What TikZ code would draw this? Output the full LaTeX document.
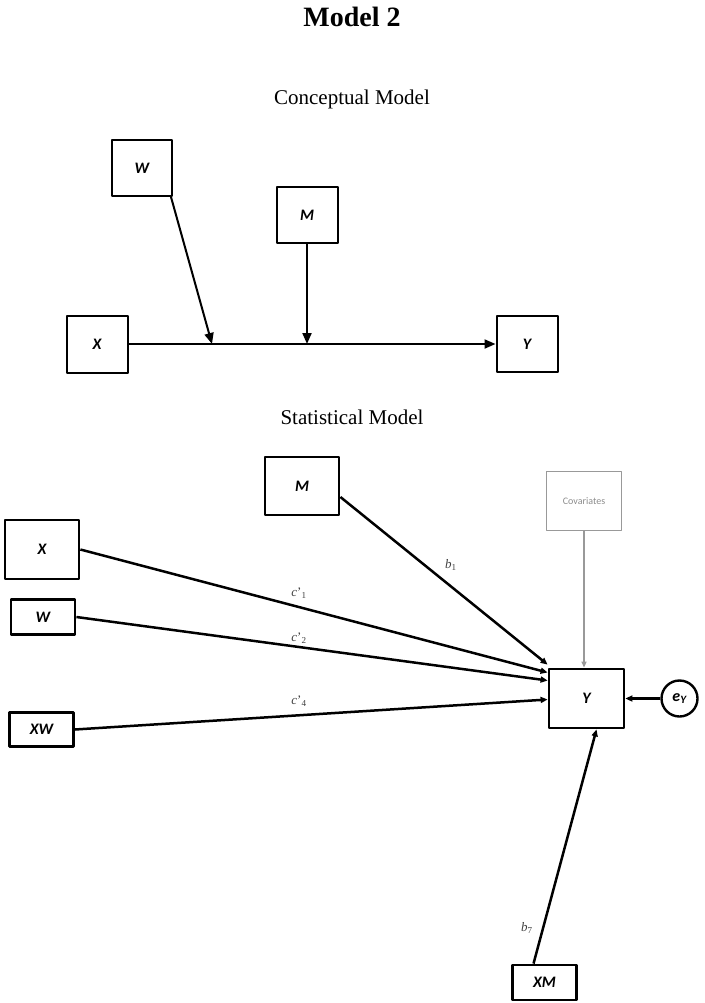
\documentclass[tikz,border=0pt]{standalone}
\usepackage{fontspec}
\setmainfont{Liberation Serif}
\newfontfamily\boxfont{Carlito}
\usetikzlibrary{arrows.meta}

\begin{document}
\begin{tikzpicture}[x=1pt,y=-1pt,line join=round,
  cbox/.style={draw,line width=2pt,inner sep=0pt,font=\boxfont\bfseries\itshape\fontsize{16}{18}\selectfont},
  sbox/.style={draw,line width=2.8pt,inner sep=0pt,font=\boxfont\bfseries\itshape\fontsize{16}{18}\selectfont},
  carrow/.style={line width=2pt,-{Triangle[length=11pt,width=9pt]}},
  sarrow/.style={line width=2.5pt,-{Triangle[length=7pt,width=6pt]}},
  plabel/.style={text=black!75,inner sep=1pt,font=\fontsize{13}{15}\selectfont\itshape},
  gr/.style={black!40}]
  \useasboundingbox (0,0) rectangle (704,1003);

  % 标题
  \node[font=\bfseries\fontsize{28}{32}\selectfont] (title) at (352,17) {Model 2};
  \node[font=\fontsize{21}{25}\selectfont] (tconc) at (352,99) {Conceptual Model};
  \node[font=\fontsize{21}{25}\selectfont] (tstat) at (352,417) {Statistical Model};

  % 概念模型
  \node[cbox,minimum width=60,minimum height=56] (cW) at (142,168) {W};
  \node[cbox,minimum width=61,minimum height=56] (cM) at (307,215) {M};
  \node[cbox,minimum width=61,minimum height=57] (cX) at (97,344) {X};
  \node[cbox,minimum width=61,minimum height=56] (cY) at (527,344) {Y};
  \coordinate (pW) at (212,344);
  \coordinate (pM) at (307,344);

  \draw[carrow] (cX) -- (cY);
  \draw[carrow] ([xshift=-2pt]cW.south east) -- (pW);
  \draw[carrow] (cM.south) -- (pM);

  % 统计模型
  \node[sbox,minimum width=74,minimum height=58] (sM) at (302,486) {M};
  \node[draw=black!40,line width=1.6pt,minimum width=75,minimum height=59,inner sep=0pt,
        text=black!45,font=\boxfont\fontsize{10}{12}\selectfont] (sC) at (584,501) {Covariates};
  \node[sbox,minimum width=74,minimum height=59] (sX) at (42,549.5) {X};
  \node[sbox,minimum width=64,minimum height=35] (sW) at (43,617) {W};
  \node[sbox,minimum width=64,minimum height=34] (sXW) at (41.5,729.5) {XW};
  \node[sbox,minimum width=75,minimum height=59] (sY) at (586.5,698.5) {Y};
  \node[draw,circle,line width=2.4pt,minimum size=36,inner sep=0pt,
        font=\boxfont\bfseries\itshape\fontsize{16}{18}\selectfont] (eY) at (679.5,698.5) {e\textsubscript{Y}};
  \node[sbox,minimum width=64,minimum height=35] (sXM) at (544.5,982.5) {XM};

  \draw[sarrow] ([yshift=-11pt]sM.east) -- ([yshift=3pt]sY.north west);
  \draw[sarrow] (sX.east) -- ([yshift=26pt]sY.west);
  \draw[sarrow] (sW.east) -- ([yshift=18pt]sY.west);
  \draw[sarrow] (sXW.east) -- ([yshift=-1pt]sY.west);
  \draw[gr,line width=1.4pt,-{Triangle[length=6pt,width=5pt]}] (sC.south) -- (sC.south |- sY.north);
  \draw[sarrow] (eY) -- (sY.east);
  \draw[sarrow] ([xshift=-11pt]sXM.north) -- ([xshift=10pt]sY.south);

  % 路径系数
  \node[plabel] (lb1) at (451,565) {b\textsubscript{\textup{1}}};
  \node[plabel] (lc1) at (299,593) {c\textup{'}\textsubscript{\textup{1}}};
  \node[plabel] (lc2) at (299,638) {c\textup{'}\textsubscript{\textup{2}}};
  \node[plabel] (lc4) at (299,701) {c\textup{'}\textsubscript{\textup{4}}};
  \node[plabel] (lb7) at (527,928) {b\textsubscript{\textup{7}}};
\end{tikzpicture}
\end{document}
